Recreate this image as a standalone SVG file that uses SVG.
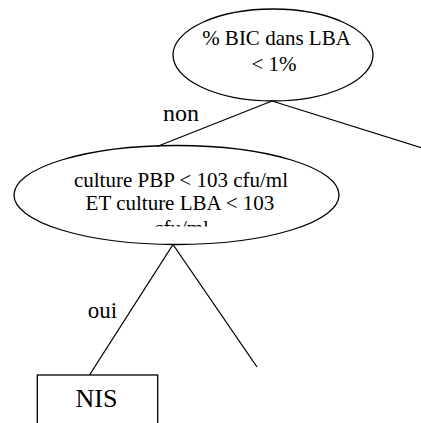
<svg xmlns="http://www.w3.org/2000/svg" width="421" height="423" viewBox="0 0 421 423">
<style>
.s{fill:none;stroke:#000;stroke-width:1.3}
.t{font-family:"Liberation Serif","Times New Roman",serif;fill:#000;text-anchor:middle}
</style>
<defs>
<clipPath id="clip3"><rect x="0" y="210" width="421" height="16.5"/></clipPath>
</defs>
<rect width="421" height="423" fill="#fff"/>
<g id="connectors">
<line class="s" x1="272" y1="101" x2="157" y2="146.5"/>
<line class="s" x1="272" y1="101" x2="422" y2="148"/>
<line class="s" x1="173" y1="244.5" x2="89.5" y2="375"/>
<line class="s" x1="173" y1="244.5" x2="257" y2="367"/>
<text class="t" x="181" y="121" font-size="24">non</text>
<text class="t" x="102.5" y="318.3" font-size="23">oui</text>
</g>
<g id="n1">
<ellipse class="s" cx="273" cy="55" rx="100" ry="46"/>
<text class="t" x="276.5" y="45" font-size="21">% BIC dans LBA</text>
<text class="t" x="274" y="70.5" font-size="21">&lt; 1%</text>
</g>
<g id="n2">
<ellipse class="s" cx="176.5" cy="195" rx="162.5" ry="49.5"/>
<text class="t" x="181" y="186.7" font-size="21">culture PBP &lt; 103 cfu/ml</text>
<text class="t" x="180" y="210" font-size="21">ET culture LBA &lt; 103</text>
<text class="t" x="181.5" y="235" font-size="21" clip-path="url(#clip3)">cfu/ml</text>
</g>
<g id="n3">
<rect class="s" x="37.3" y="375" width="120.4" height="60"/>
<text class="t" x="96.5" y="406.7" font-size="26">NIS</text>
</g>
</svg>
